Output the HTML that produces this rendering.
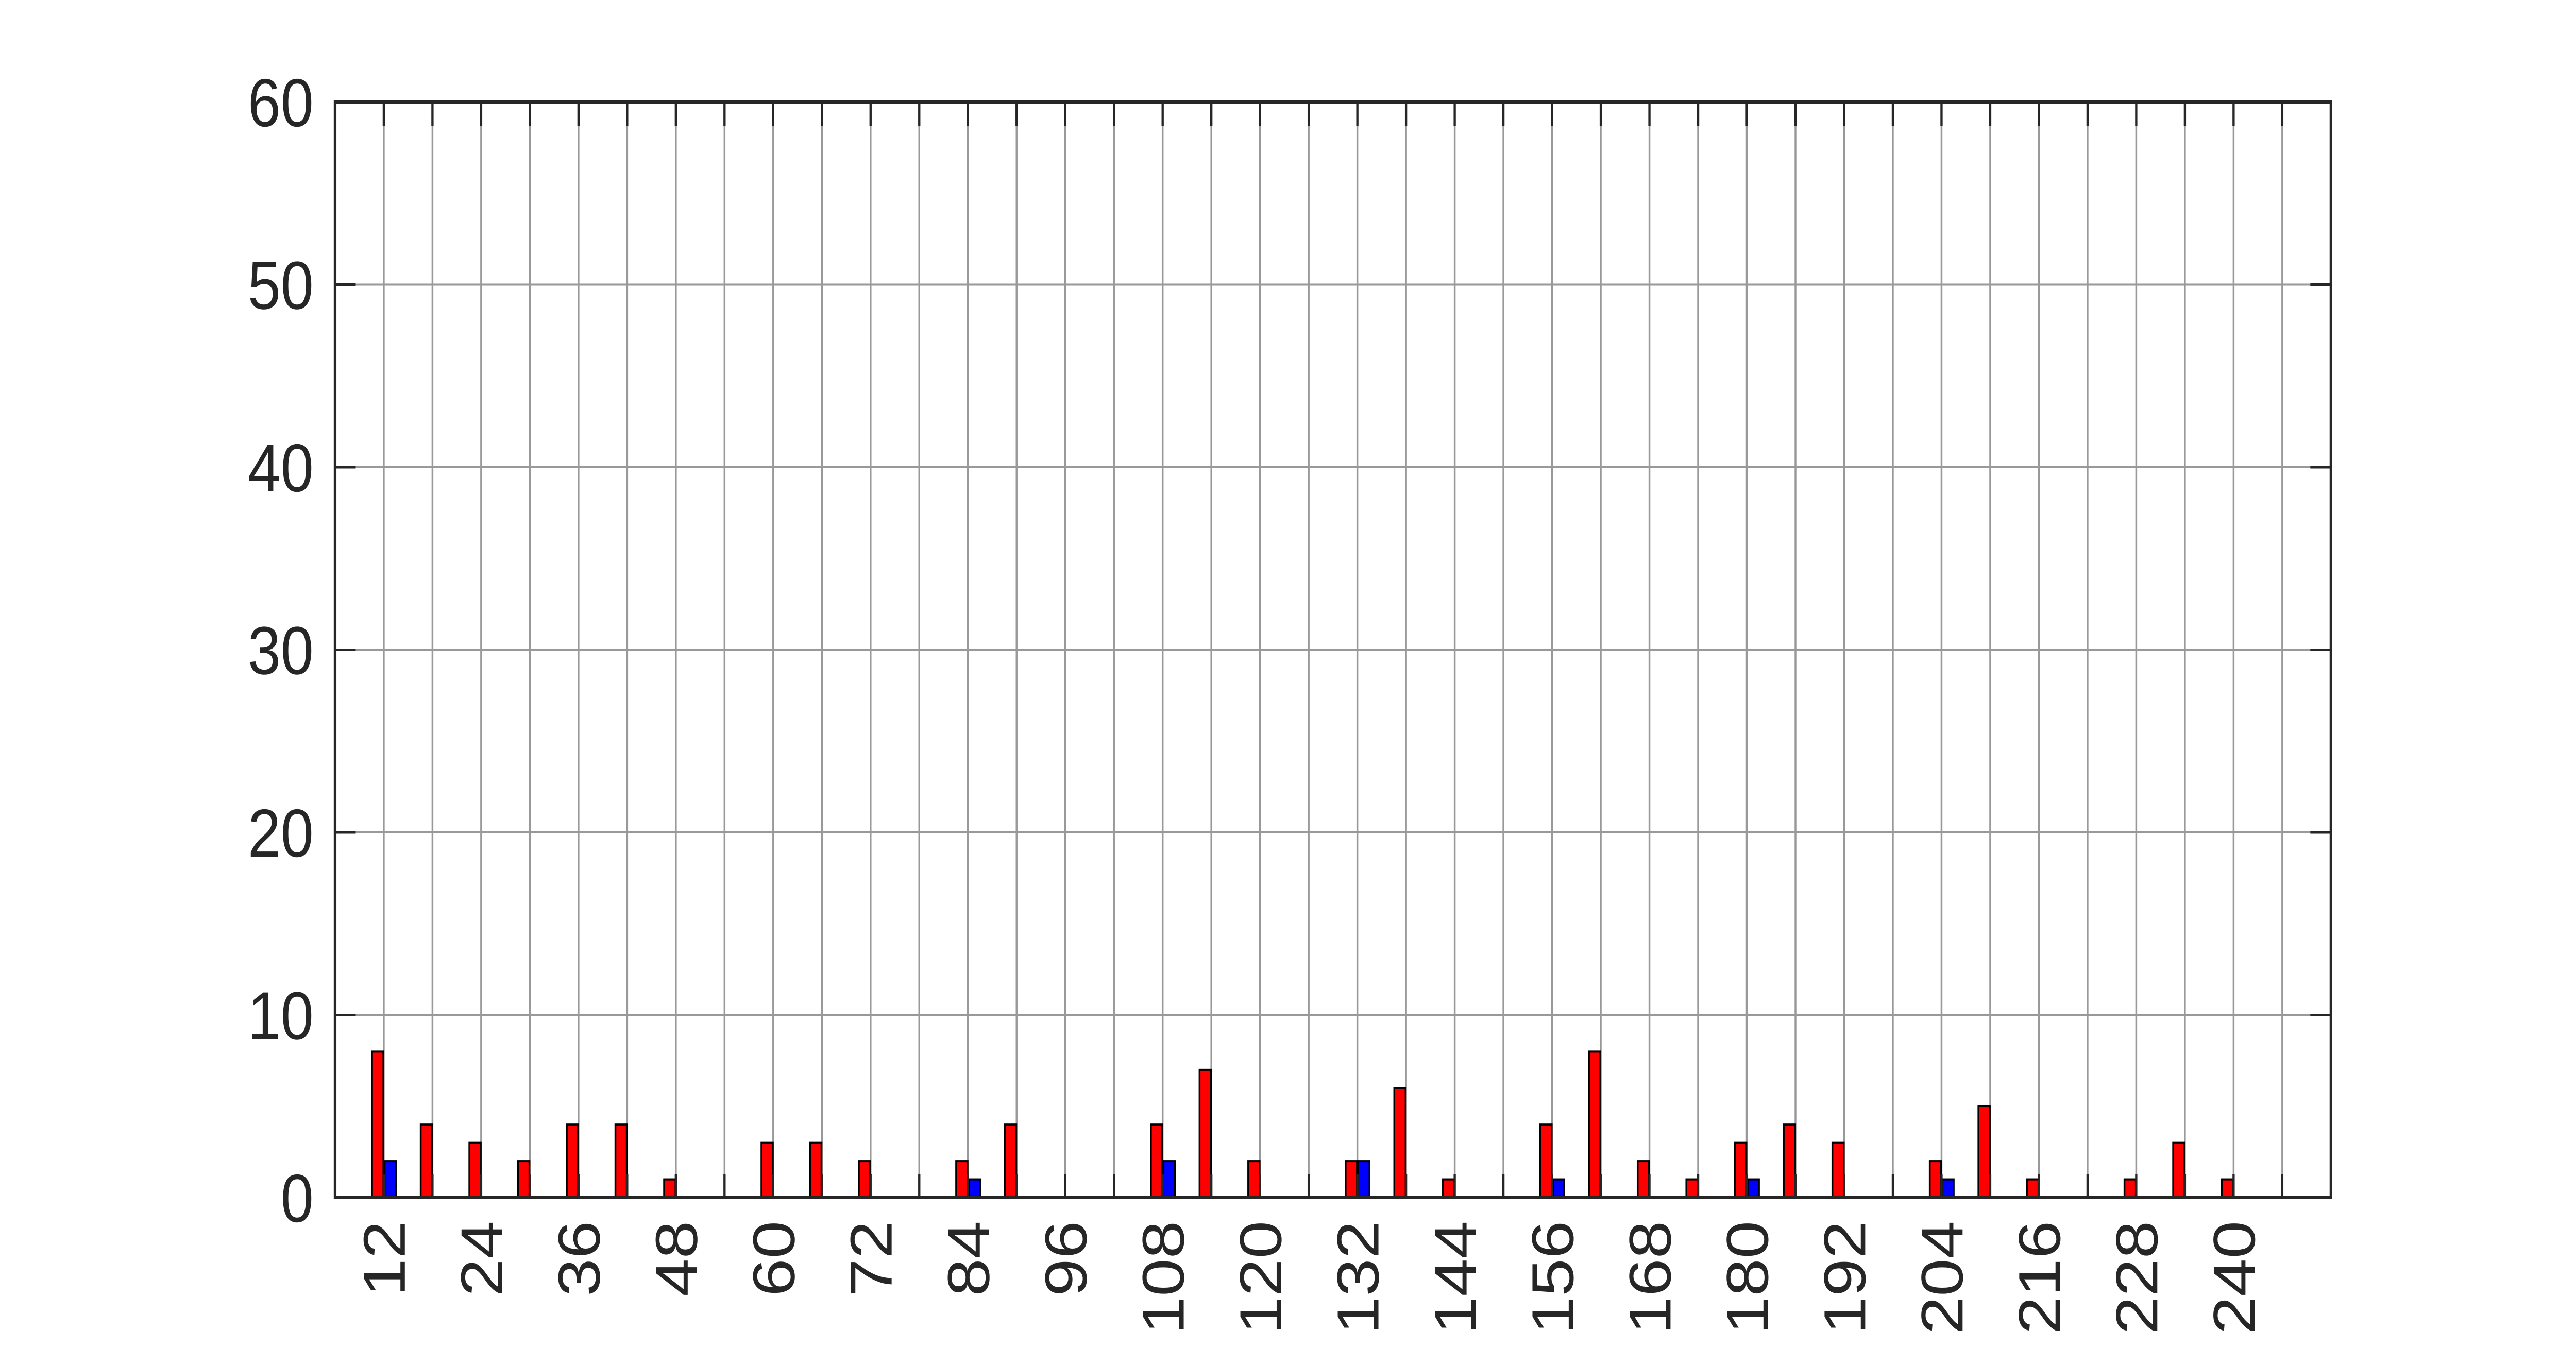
<!DOCTYPE html>
<html><head><meta charset="utf-8"><style>
html,body{margin:0;padding:0;background:#fff;width:100%;height:100%;overflow:hidden;}
svg{display:block;width:100vw;height:100vh;}
text{font-family:"Liberation Sans",Arial,sans-serif;fill:#262626;}
</style></head><body>
<svg id="chart" viewBox="0 0 5750 2615" preserveAspectRatio="none" xmlns="http://www.w3.org/2000/svg">
<rect width="5750" height="2615" fill="#fff"/>
<g id="grid"></g>
<g id="bars"></g>
<g id="axes"></g>
</svg>
<script>
const categories = [12,18,24,30,36,42,48,54,60,66,72,78,84,90,96,102,108,114,120,126,132,138,144,150,156,162,168,174,180,186,192,198,204,210,216,222,228,234,240,246];
const redValues  = [8,4,3,2,4,4,1,0,3,3,2,0,2,4,0,0,4,7,2,0,2,6,1,0,4,8,2,1,3,4,3,0,2,5,1,0,1,3,1,0];
const blueValues = [2,0,0,0,0,0,0,0,0,0,0,0,1,0,0,0,2,0,0,0,2,0,0,0,1,0,0,0,1,0,0,0,1,0,0,0,0,0,0,0];
const xTickLabels = [12,24,36,48,60,72,84,96,108,120,132,144,156,168,180,192,204,216,228,240];
const yTickLabels = [0,10,20,30,40,50,60];

const L=748, R=5203, T=198, B=2325;
const xMin=6, xMax=252, yMin=0, yMax=60;
const xs = v => L + (v - xMin) / (xMax - xMin) * (R - L);
const ys = v => B - (v - yMin) / (yMax - yMin) * (B - T);
const NS = "http://www.w3.org/2000/svg";
function mk(tag, attrs, parent){
  const e = document.createElementNS(NS, tag);
  for (const k in attrs) e.setAttribute(k, attrs[k]);
  parent.appendChild(e); return e;
}
const grid = document.getElementById('grid');
const bars = document.getElementById('bars');
const axes = document.getElementById('axes');

for (let g = 12; g < xMax; g += 6) {
  const l = mk('line', {x1:xs(g), x2:xs(g), y1:T, y2:B, stroke:'#999', 'stroke-width':4}, grid);
  
  
}
yTickLabels.forEach(v => {
  const l = mk('line', {x1:L, x2:R, y1:ys(v), y2:ys(v), stroke:'#999', 'stroke-width':4}, grid);
  
  
});

const uw = (R - L) / (xMax - xMin);
categories.forEach((c, i) => {
  if (redValues[i] > 0) {
    const r = mk('rect', {x:xs(c) - 1.45*uw, y:ys(redValues[i]), width:1.4*uw, height:ys(0)-ys(redValues[i]), fill:'#ff0000', stroke:'#000', 'stroke-width':4}, bars);
    
    
  }
  if (blueValues[i] > 0) {
    const b = mk('rect', {x:xs(c) + 0.1*uw, y:ys(blueValues[i]), width:1.4*uw, height:ys(0)-ys(blueValues[i]), fill:'#0000ff', stroke:'#000', 'stroke-width':4}, bars);
    
    
  }
});

const tl = 46;
for (let g = 12; g < xMax; g += 6) {
  mk('line', {x1:xs(g), x2:xs(g), y1:B, y2:B-tl, stroke:'#262626', 'stroke-width':5}, axes);
  mk('line', {x1:xs(g), x2:xs(g), y1:T, y2:T+tl, stroke:'#262626', 'stroke-width':5}, axes);
}
yTickLabels.forEach(v => {
  mk('line', {x1:L, x2:L+tl, y1:ys(v), y2:ys(v), stroke:'#262626', 'stroke-width':5}, axes);
  mk('line', {x1:R, x2:R-tl, y1:ys(v), y2:ys(v), stroke:'#262626', 'stroke-width':5}, axes);
  const t = mk('text', {x:700, y:ys(v)+47, 'text-anchor':'end', 'font-size':132}, axes);
  t.textContent = v;
  
  
});
xTickLabels.forEach(v => {
  const x = xs(v), y = 2370;
  const t = mk('text', {x:x, y:y, 'text-anchor':'end', 'font-size':132, transform:`rotate(-90 ${x} ${y}) translate(0 47)`}, axes);
  t.textContent = v;
  
  
});
const box = mk('rect', {x:L, y:T, width:R-L, height:B-T, fill:'none', stroke:'#262626', 'stroke-width':6}, axes);


</script>
</body></html>
